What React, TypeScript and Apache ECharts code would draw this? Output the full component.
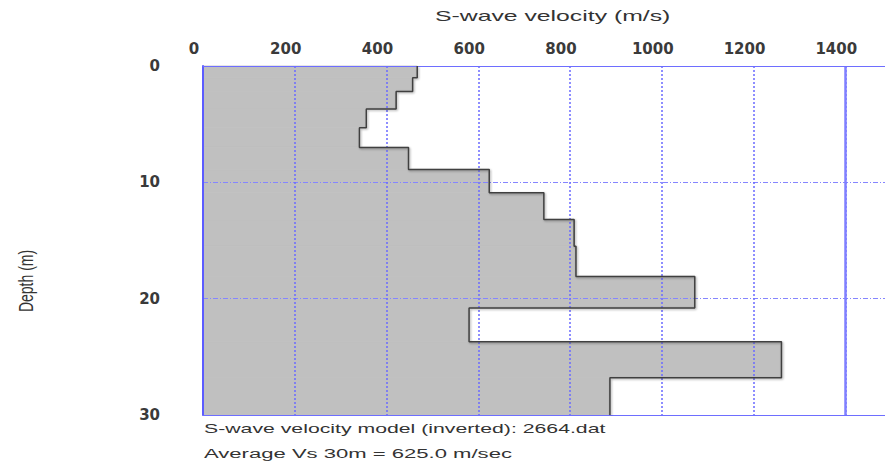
import React, { useEffect, useRef } from "react";
import * as echarts from "echarts";

// Layer model (depth in m, S-wave velocity in m/s)
const depthTops = [0, 1.0, 2.2, 3.7, 5.3, 7.0, 8.9, 10.9, 13.2, 15.5, 18.1, 20.8, 23.7, 26.8];
const depthBottoms = [1.0, 2.2, 3.7, 5.3, 7.0, 8.9, 10.9, 13.2, 15.5, 18.1, 20.8, 23.7, 26.8, 30];
const velocities = [467, 457, 421, 356, 341, 448, 624, 743, 809, 813, 1072, 580, 1261, 887];

const xTickLabels = ["0", "200", "400", "600", "800", "1000", "1200", "1400"];
const yTickLabels = ["0", "10", "20", "30"];
const refLineVelocity = 1400;

const titleText = "S-wave velocity (m/s)";
const yTitleText = "Depth (m)";
const footer1 = "S-wave velocity model (inverted): 2664.dat";
const footer2 = "Average Vs 30m = 625.0 m/sec";

export default function App() {
  const ref = useRef<HTMLDivElement>(null);
  useEffect(() => {
    if (!ref.current) return;
    const chart = echarts.init(ref.current, null, { renderer: "svg" });

    const layerData = velocities.map((v, i) => [v, depthTops[i], depthBottoms[i]]);
    const outline: number[][] = [];
    velocities.forEach((v, i) => {
      outline.push([v, depthTops[i]]);
      outline.push([v, depthBottoms[i]]);
    });

    const tickFont = {
      fontFamily: "DejaVu Sans",
      fontWeight: "bold" as const,
      fontSize: 15,
      color: "#3a3a3a",
    };

    chart.setOption({
      animation: false,
      backgroundColor: "#ffffff",
      grid: { left: 203, top: 66, right: 1, bottom: 50, containLabel: false },
      xAxis: [
        {
          type: "value",
          position: "top",
          min: 0,
          max: 1600,
          interval: 200,
          z: 5,
          axisLine: { show: true, lineStyle: { color: "#6e6eff", width: 1 } },
          axisTick: { show: false },
          axisLabel: {
            ...tickFont,
            margin: 10,
            padding: [0, 18, 0, 0],
            formatter: (v: number) => (xTickLabels.includes(String(v)) ? String(v) : ""),
          },
          splitLine: {
            show: true,
            lineStyle: { color: "#6a6aff", width: 1.5, type: [2, 2] },
          },
        },
        {
          type: "value",
          position: "bottom",
          min: 0,
          max: 1600,
          z: 5,
          axisLine: { show: true, lineStyle: { color: "#6e6eff", width: 1 } },
          axisTick: { show: false },
          axisLabel: { show: false },
          splitLine: { show: false },
        },
      ],
      yAxis: {
        type: "value",
        inverse: true,
        min: 0,
        max: 30,
        interval: 10,
        z: 5,
        axisLine: { show: true, lineStyle: { color: "#5c5cff", width: 2 } },
        axisTick: { show: false },
        axisLabel: {
          ...tickFont,
          margin: 43,
          padding: [0, 0, 4, 0],
          formatter: (v: number) => (yTickLabels.includes(String(v)) ? String(v) : ""),
        },
        splitLine: {
          show: true,
          lineStyle: { color: "#8585ff", width: 1, type: [5, 2, 1, 2] },
        },
      },
      series: [
        {
          type: "custom",
          z: 2,
          xAxisIndex: 0,
          data: layerData,
          renderItem: (params: any, api: any) => {
            const v = api.value(0);
            const t = api.value(1);
            const b = api.value(2);
            const p0 = api.coord([0, t]);
            const p1 = api.coord([v, b]);
            return {
              type: "rect",
              shape: { x: p0[0], y: p0[1], width: p1[0] - p0[0], height: p1[1] - p0[1] },
              style: { fill: "#c0c0c0", stroke: "#c0c0c0", lineWidth: 0.8 },
            };
          },
        },
        {
          type: "line",
          z: 6,
          xAxisIndex: 0,
          data: outline,
          symbol: "none",
          lineStyle: {
            color: "#404040",
            width: 1.5,
            shadowColor: "rgba(0,0,0,0.35)",
            shadowBlur: 2,
            shadowOffsetX: 1,
            shadowOffsetY: 1,
          },
          markLine: {
            silent: true,
            symbol: "none",
            label: { show: false },
            lineStyle: { color: "#8080ff", width: 2.5, type: "solid" },
            data: [{ xAxis: refLineVelocity }],
          },
        },
      ],
      graphic: [
        {
          type: "text",
          x: 435,
          y: 16,
          scaleX: 1.77,
          style: {
            text: titleText,
            font: "14px 'Liberation Sans'",
            fill: "#333333",
            textAlign: "left",
            textVerticalAlign: "middle",
          },
        },
        {
          type: "text",
          x: 26,
          y: 281,
          rotation: Math.PI / 2,
          scaleY: 1.45,
          style: {
            text: yTitleText,
            font: "14px 'Liberation Sans'",
            fill: "#333333",
            textAlign: "center",
            textVerticalAlign: "middle",
          },
        },
        {
          type: "text",
          x: 204,
          y: 429,
          scaleX: 1.77,
          style: {
            text: footer1,
            font: "12px 'Liberation Sans'",
            fill: "#333333",
            textAlign: "left",
            textVerticalAlign: "middle",
          },
        },
        {
          type: "text",
          x: 204,
          y: 454,
          scaleX: 1.84,
          style: {
            text: footer2,
            font: "12px 'Liberation Sans'",
            fill: "#333333",
            textAlign: "left",
            textVerticalAlign: "middle",
          },
        },
      ],
    });
    return () => chart.dispose();
  }, []);

  return (
    <div style={{ position: "fixed", left: 0, top: 0, width: 885, height: 465, overflow: "hidden", background: "#fff" }}>
      <div ref={ref} style={{ position: "absolute", left: 0, top: 0, width: 940, height: 465 }} />
    </div>
  );
}
